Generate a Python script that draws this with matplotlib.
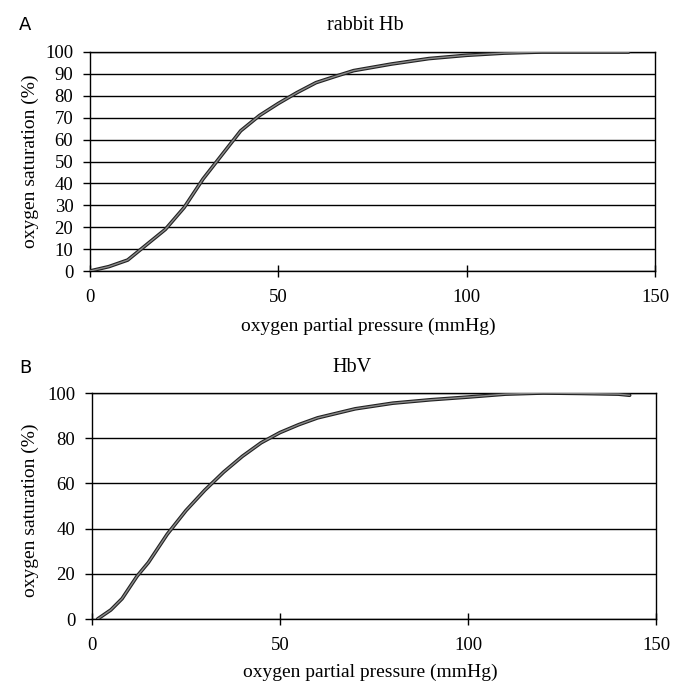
import matplotlib
matplotlib.use("Agg")
import matplotlib.pyplot as plt

# Panel A: rabbit Hb
a_po2 = [0, 5, 10, 15, 20, 25, 30, 35, 40, 45, 50, 55, 60, 65, 70, 80, 90, 100, 110, 120, 130, 143]
a_sat = [0, 2, 5, 12, 19, 29, 42, 53, 64, 71, 76.5, 81.5, 86, 88.8, 91.5, 94.5, 97, 98.5, 99.5, 100, 100, 100]

# Panel B: HbV
b_po2 = [1.5, 5, 8, 12, 15, 20, 25, 30, 35, 40, 45, 50, 55, 60, 70, 80, 90, 100, 110, 120, 130, 140, 143]
b_sat = [0, 4, 9, 19, 25, 37.5, 48, 57, 65, 72, 78, 82.5, 86, 89, 93, 95.5, 97, 98.2, 99.5, 100, 99.8, 99.5, 99]

a_yticks = list(range(0, 101, 10))
b_yticks = list(range(0, 101, 20))
xticks = [0, 50, 100, 150]

plt.rcParams['font.family'] = ['Liberation Serif', 'DejaVu Serif']

fig = plt.figure(figsize=(6.82, 6.82), dpi=100)
W = H = 682.0

def make_ax(l, t, r, b):
    return fig.add_axes([l / W, 1 - b / H, (r - l) / W, (b - t) / H])

def ftext(x, y, s, **kw):
    fig.text(x / W, 1 - y / H, s, ha='center', va='center', **kw)

axA = make_ax(90, 52, 655, 271)
axB = make_ax(92, 393, 656, 619)

for ax, x, y, yt in [(axA, a_po2, a_sat, a_yticks),
                     (axB, b_po2, b_sat, b_yticks)]:
    ax.set_xlim(0, 150)
    ax.set_ylim(0, 100)
    ax.set_yticks(yt)
    ax.set_xticks(xticks)
    for v in yt:
        ax.axhline(v, color='black', lw=1.0, zorder=1)
    ax.plot(x, y, color='#222222', lw=2.6, zorder=3, solid_capstyle='round')
    ax.plot(x, y, color='#8a8a8a', lw=1.0, zorder=4, solid_capstyle='round')
    ax.tick_params(axis='y', direction='out', length=5, width=1, labelsize=13.5, pad=7)
    ax.tick_params(axis='x', direction='inout', length=8, width=1, labelsize=13.5, pad=9)
    for s in ax.spines.values():
        s.set_color('black')
        s.set_linewidth(1.0)

# Panel A texts
ftext(25, 25, 'A', fontsize=13, family='DejaVu Sans')
ftext(365, 25, 'rabbit Hb', fontsize=14.5)
ftext(368, 326, 'oxygen partial pressure (mmHg)', fontsize=14)
ftext(30, 161, 'oxygen saturation (%)', fontsize=14, rotation=90)

# Panel B texts
ftext(25, 368, 'B', fontsize=13, family='DejaVu Sans')
ftext(352, 368, 'HbV', fontsize=14.5)
ftext(370, 672, 'oxygen partial pressure (mmHg)', fontsize=14)
ftext(30, 510, 'oxygen saturation (%)', fontsize=14, rotation=90)

fig.savefig('out.png', dpi=100)
